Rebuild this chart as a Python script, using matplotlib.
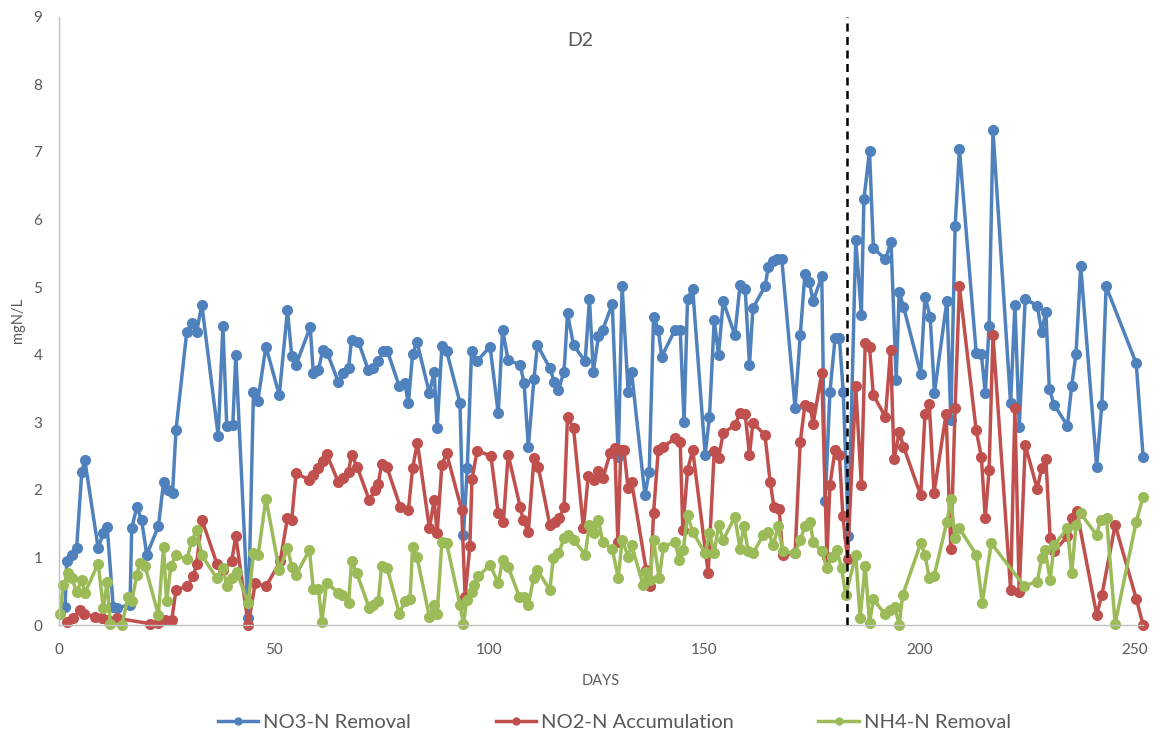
import matplotlib
matplotlib.use("Agg")
import matplotlib.pyplot as plt

# NO3-N removal (mg N/L)
no3_days = [1.4, 1.8, 3.0, 4.1, 5.3, 6.0, 9.1, 10.3, 11.2, 12.6, 13.4, 16.5, 16.9, 18.1, 19.2,
            20.4, 23.1, 24.3, 25.4, 26.4, 27.2, 29.7, 30.9, 32.0, 33.2, 37.0, 38.1, 39.0, 40.4,
            41.1, 44.0, 45.2, 46.2, 48.1, 51.2, 53.1, 54.1, 55.1, 58.4, 59.1, 60.3, 61.3, 62.4,
            64.9, 66.0, 67.3, 68.0, 69.6, 71.9, 73.1, 74.2, 75.3, 76.3, 79.1, 80.4, 81.2, 82.2,
            83.2, 86.1, 87.2, 87.9, 89.0, 90.1, 93.2, 94.0, 94.9, 95.9, 97.1, 100.2, 102.1, 103.1,
            104.4, 107.2, 108.1, 109.1, 110.4, 111.2, 114.1, 115.1, 116.1, 117.4, 118.2, 119.6,
            122.3, 123.3, 124.2, 125.4, 126.4, 128.6, 130.0, 130.9, 132.3, 133.1, 136.2, 137.2,
            138.2, 139.3, 140.1, 143.2, 144.4, 145.3, 146.1, 147.3, 150.2, 151.2, 152.3, 153.3,
            154.4, 157.1, 158.3, 159.5, 160.5, 161.3, 164.1, 164.9, 165.9, 166.8, 168.0, 171.1,
            172.3, 173.4, 174.4, 175.3, 177.3, 178.1, 179.2, 180.4, 181.4, 182.3, 183.5, 185.2,
            186.5, 187.1, 188.4, 189.3, 192.1, 193.4, 194.6, 195.3, 196.3, 200.3, 201.3, 202.5,
            203.5, 206.4, 207.3, 208.3, 209.3, 213.2, 214.4, 215.3, 216.2, 217.1, 221.2, 222.2,
            223.2, 224.6, 227.4, 228.4, 229.4, 230.2, 231.3, 234.4, 235.4, 236.4, 237.5, 241.2,
            242.4, 243.4, 250.4, 252.0]
no3_removal = [0.27, 0.94, 1.04, 1.14, 2.27, 2.44, 1.14, 1.36, 1.45, 0.27, 0.25, 0.30, 1.43, 1.75,
               1.55, 1.04, 1.46, 2.11, 2.00, 1.96, 2.89, 4.34, 4.47, 4.34, 4.74, 2.80, 4.42, 2.94,
               2.96, 4.00, 0.10, 3.45, 3.31, 4.12, 3.40, 4.66, 3.98, 3.85, 4.41, 3.73, 3.77, 4.07,
               4.02, 3.60, 3.73, 3.80, 4.22, 4.19, 3.77, 3.80, 3.90, 4.05, 4.06, 3.53, 3.58, 3.28,
               4.01, 4.19, 3.43, 3.75, 2.91, 4.13, 4.05, 3.29, 1.33, 2.32, 4.05, 3.90, 4.12, 3.13,
               4.37, 3.92, 3.85, 3.58, 2.64, 3.64, 4.14, 3.80, 3.60, 3.48, 3.75, 4.61, 4.14, 3.90,
               4.82, 3.75, 4.27, 4.37, 4.75, 2.49, 5.01, 3.45, 3.74, 1.92, 2.27, 4.56, 4.37, 3.97,
               4.37, 4.37, 3.01, 4.83, 4.97, 2.52, 3.08, 4.51, 4.00, 4.79, 4.29, 5.03, 4.97, 3.85,
               4.69, 5.01, 5.30, 5.38, 5.42, 5.42, 3.21, 4.29, 5.20, 5.08, 4.79, 5.16, 1.83, 3.45,
               4.24, 4.24, 3.45, 1.32, 5.70, 4.59, 6.30, 7.01, 5.58, 5.41, 5.67, 3.63, 4.92, 4.71,
               3.72, 4.86, 4.56, 3.44, 4.80, 3.04, 5.90, 7.04, 4.03, 4.01, 3.43, 4.42, 7.32, 3.28,
               4.74, 2.93, 4.83, 4.72, 4.34, 4.63, 3.49, 3.26, 2.95, 3.54, 4.01, 5.31, 2.34, 3.26,
               5.01, 3.87, 2.49]

# NO2-N accumulation (mg N/L)
no2_days = [1.8, 3.3, 4.9, 5.7, 8.4, 9.9, 11.5, 13.4, 21.2, 23.1, 24.6, 26.2, 27.2, 29.7, 31.2,
            32.0, 33.2, 36.7, 38.2, 40.1, 41.1, 44.0, 45.6, 48.1, 51.4, 53.1, 54.1, 55.1, 58.0,
            59.1, 60.3, 61.3, 62.2, 64.9, 66.1, 67.3, 68.0, 69.3, 72.1, 73.5, 74.2, 75.0, 76.2,
            79.3, 81.2, 82.2, 83.3, 86.1, 87.2, 87.9, 89.0, 90.1, 93.6, 94.4, 95.5, 96.0, 97.2,
            100.4, 102.1, 103.3, 104.4, 107.2, 107.9, 109.1, 110.4, 111.4, 114.1, 115.3, 116.3,
            117.4, 118.2, 119.6, 121.9, 123.0, 124.4, 125.4, 126.4, 128.1, 129.2, 129.9, 130.6,
            131.3, 132.3, 133.1, 136.5, 137.4, 138.2, 139.3, 140.5, 143.2, 144.4, 145.0, 146.1,
            147.3, 150.9, 152.3, 153.3, 154.4, 157.1, 158.3, 159.5, 160.5, 161.3, 164.1, 165.3,
            166.2, 167.4, 168.2, 171.1, 172.3, 173.4, 174.6, 175.3, 177.3, 178.5, 179.2, 180.4,
            181.4, 182.2, 183.3, 185.2, 186.5, 187.4, 188.4, 189.3, 192.1, 193.3, 194.1, 195.3,
            196.3, 200.3, 201.3, 202.3, 203.4, 206.2, 207.3, 208.3, 209.3, 213.2, 214.4, 215.3,
            216.2, 217.1, 221.2, 222.2, 223.2, 224.6, 227.4, 228.4, 229.4, 230.4, 231.3, 234.4,
            235.4, 236.6, 241.2, 242.4, 245.5, 250.4, 252.0]
no2_accumulation = [0.05, 0.10, 0.22, 0.17, 0.12, 0.10, 0.07, 0.10, 0.02, 0.03, 0.07, 0.07, 0.52,
                    0.57, 0.72, 0.91, 1.56, 0.91, 0.81, 0.94, 1.31, 0.00, 0.62, 0.57, 0.94, 1.58,
                    1.56, 2.25, 2.15, 2.22, 2.32, 2.42, 2.53, 2.12, 2.17, 2.27, 2.52, 2.34, 1.85,
                    2.00, 2.09, 2.38, 2.34, 1.75, 1.70, 2.32, 2.70, 1.43, 1.85, 1.36, 2.37, 2.54,
                    1.70, 0.42, 1.17, 2.16, 2.58, 2.50, 1.65, 1.53, 2.52, 1.75, 1.55, 1.38, 2.47,
                    2.34, 1.48, 1.53, 1.58, 1.75, 3.08, 2.91, 1.43, 2.20, 2.15, 2.28, 2.17, 2.54,
                    2.62, 1.23, 2.59, 2.59, 2.02, 2.12, 0.81, 0.57, 1.65, 2.59, 2.64, 2.76, 2.71,
                    1.41, 2.29, 2.59, 0.77, 2.57, 2.47, 2.84, 2.96, 3.13, 3.12, 2.52, 2.99, 2.81,
                    2.12, 1.74, 1.72, 1.04, 1.06, 2.71, 3.26, 3.23, 2.98, 3.73, 1.01, 2.07, 2.59,
                    2.52, 1.62, 0.97, 3.53, 2.07, 4.17, 4.11, 3.40, 3.08, 4.07, 2.45, 2.85, 2.64,
                    1.92, 3.12, 3.27, 1.96, 3.12, 1.13, 3.21, 5.01, 2.88, 2.49, 1.58, 2.30, 4.29,
                    0.52, 3.21, 0.49, 2.66, 2.01, 2.32, 2.45, 1.28, 1.09, 1.31, 1.58, 1.68, 0.15,
                    0.44, 1.48, 0.39, 0.00]

# NH4-N removal (mg N/L)
nh4_days = [0.2, 1.0, 2.2, 3.0, 4.1, 5.3, 6.0, 9.1, 10.3, 11.2, 11.9, 14.6, 16.1, 16.9, 18.1,
            18.8, 20.0, 23.1, 24.3, 25.0, 26.0, 27.2, 29.7, 30.9, 32.0, 33.2, 36.7, 38.1, 39.0,
            40.1, 41.3, 44.0, 45.2, 46.3, 48.1, 51.2, 53.1, 54.1, 55.1, 58.2, 59.1, 60.3, 61.1,
            62.2, 64.9, 65.7, 67.3, 68.0, 69.2, 72.1, 73.1, 74.2, 75.0, 76.3, 79.1, 80.4, 81.6,
            82.2, 83.2, 86.1, 87.2, 87.9, 89.0, 90.1, 93.2, 94.0, 94.8, 95.9, 96.5, 97.5, 100.2,
            102.1, 103.1, 104.4, 107.0, 108.1, 109.1, 110.3, 111.2, 114.1, 114.9, 116.1, 117.4,
            118.4, 119.6, 122.3, 123.3, 124.4, 125.4, 126.4, 128.6, 130.0, 130.9, 132.3, 133.1,
            135.8, 136.5, 137.4, 138.2, 139.5, 140.5, 143.2, 144.2, 145.1, 146.1, 147.3, 150.2,
            151.2, 152.3, 153.3, 154.4, 157.1, 158.3, 159.2, 160.2, 161.3, 163.7, 164.9, 166.0,
            167.2, 168.2, 171.1, 172.3, 173.4, 174.6, 175.3, 177.3, 178.5, 179.6, 180.8, 181.9,
            182.9, 185.2, 186.2, 187.4, 188.4, 189.3, 192.0, 193.1, 194.3, 195.3, 196.1, 200.3,
            201.3, 202.3, 203.4, 206.4, 207.3, 208.3, 209.3, 213.2, 214.6, 216.7, 224.3, 227.4,
            228.4, 229.2, 230.4, 231.3, 234.4, 235.4, 236.4, 237.5, 241.2, 242.1, 243.5, 245.5,
            250.4, 252.0]
nh4_removal = [0.17, 0.59, 0.77, 0.69, 0.49, 0.67, 0.47, 0.91, 0.25, 0.64, 0.02, 0.00, 0.42, 0.35,
               0.74, 0.92, 0.87, 0.15, 1.16, 0.35, 0.87, 1.04, 0.97, 1.25, 1.41, 1.03, 0.69, 0.85,
               0.57, 0.69, 0.79, 0.32, 1.06, 1.04, 1.87, 0.81, 1.14, 0.86, 0.74, 1.11, 0.54, 0.54,
               0.05, 0.62, 0.48, 0.44, 0.32, 0.94, 0.77, 0.25, 0.30, 0.35, 0.87, 0.84, 0.17, 0.35,
               0.39, 1.16, 1.01, 0.12, 0.30, 0.17, 1.23, 1.21, 0.30, 0.02, 0.37, 0.49, 0.59, 0.72,
               0.89, 0.62, 0.96, 0.86, 0.42, 0.42, 0.30, 0.69, 0.81, 0.52, 0.99, 1.06, 1.28, 1.33,
               1.26, 1.04, 1.48, 1.36, 1.55, 1.23, 1.12, 0.70, 1.26, 1.01, 1.18, 0.59, 0.79, 0.67,
               1.26, 0.69, 1.16, 1.23, 0.96, 1.11, 1.63, 1.38, 1.06, 1.36, 1.06, 1.48, 1.26, 1.60,
               1.13, 1.46, 1.09, 1.06, 1.33, 1.38, 1.18, 1.46, 1.09, 1.06, 1.26, 1.46, 1.53, 1.23,
               1.09, 0.84, 1.01, 1.11, 0.84, 0.44, 1.04, 0.10, 0.88, 0.03, 0.38, 0.16, 0.22, 0.26,
               0.00, 0.44, 1.21, 1.04, 0.69, 0.72, 1.53, 1.86, 1.28, 1.43, 1.04, 0.33, 1.21, 0.58,
               0.64, 0.99, 1.11, 0.67, 1.18, 1.43, 0.77, 1.48, 1.65, 1.33, 1.56, 1.58, 0.02, 1.53,
               1.90]

phase_change_day = 183.2

series = [
    ("NO3-N Removal", no3_days, no3_removal, "#4F81BD"),
    ("NO2-N Accumulation", no2_days, no2_accumulation, "#C0504D"),
    ("NH4-N Removal", nh4_days, nh4_removal, "#9BBB59"),
]

plt.rcParams["font.family"] = ["Lato", "DejaVu Sans"]
text_grey = "#595959"

fig = plt.figure(figsize=(11.57, 7.40), dpi=100)
ax = fig.add_axes([0.051, 0.1554, 0.937, 0.822])

handles = []
for label, days, values, color in series:
    h, = ax.plot(days, values, color=color, lw=2.5, marker="o", ms=8.0,
                 markeredgewidth=0, label=label, clip_on=False)
    handles.append(h)

ax.axvline(phase_change_day, color="black", lw=1.8, ls=(0, (3.2, 2.2)), zorder=5)

ax.set_xlim(0, 252)
ax.set_ylim(0, 9)
ax.set_xticks(range(0, 251, 50))
ax.set_yticks(range(0, 10))

for side in ("top", "right"):
    ax.spines[side].set_visible(False)
for side in ("left", "bottom"):
    ax.spines[side].set_color("#BFBFBF")
    ax.spines[side].set_linewidth(1.0)

ax.tick_params(axis="both", length=0, labelsize=11, labelcolor=text_grey)
ax.tick_params(axis="x", pad=13)
ax.tick_params(axis="y", pad=12)

ax.set_xlabel("DAYS", fontsize=10.5, color=text_grey, labelpad=12)
ax.set_ylabel("mgN/L", fontsize=10.5, color=text_grey, labelpad=6)
ax.text(0.481, 0.975, "D2", transform=ax.transAxes, ha="center", va="top",
        fontsize=14, color=text_grey)

fig.legend(handles=handles, loc="center", bbox_to_anchor=(0.531, 0.024), ncol=3,
           frameon=False, fontsize=14.5, labelcolor=text_grey, handlelength=2.0,
           handletextpad=0.25, columnspacing=4.2, markerscale=0.75)

fig.savefig("out.png", dpi=100)
